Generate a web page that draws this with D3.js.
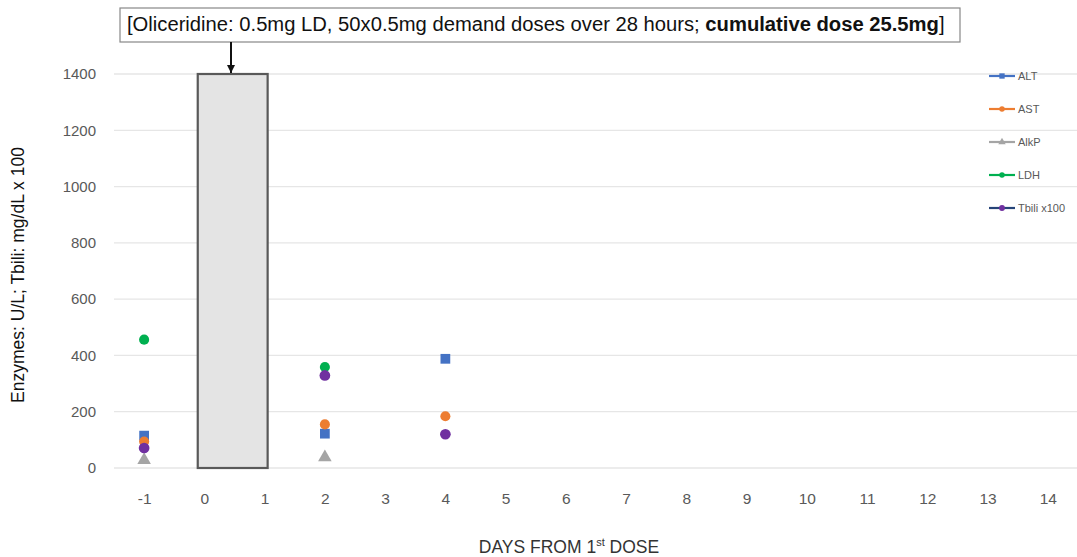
<!DOCTYPE html>
<html>
<head>
<meta charset="utf-8">
<script src="https://cdn.jsdelivr.net/npm/d3@7"></script>
<style>
  body { margin: 0; background: #fff; }
  svg { font-family: "Liberation Sans", "DejaVu Sans", sans-serif; }
</style>
</head>
<body>
<div id="chart"></div>
<script>
// data
var days = [-1, 2, 4];
var seriesNames = ["ALT", "AST", "AlkP", "LDH", "Tbili x100"];
var altValues = [115, 122, 388];
var astValues = [94, 155, 184];
var alkpValues = [28, 38, null];
var ldhValues = [456, 359, null];
var tbiliValues = [71, 329, 120];
var yTicks = [0, 200, 400, 600, 800, 1000, 1200, 1400];
var xTicks = [-1, 0, 1, 2, 3, 4, 5, 6, 7, 8, 9, 10, 11, 12, 13, 14];
var doseBar = [-0.11, 1.05, 1400];

var W = 1077, H = 557;
var svg = d3.select("#chart").append("svg")
    .attr("width", W)
    .attr("height", H);

var x = d3.scaleLinear().domain([-1.5, 14.5]).range([114, 1078]);
var y = d3.scaleLinear().domain([0, 1400]).range([468, 74]);

// 网格线
svg.append("g").selectAll("line")
    .data(yTicks)
    .enter().append("line")
    .attr("x1", 114).attr("x2", W)
    .attr("y1", function (d) { return y(d); })
    .attr("y2", function (d) { return y(d); })
    .attr("stroke", "#e6e6e6")
    .attr("stroke-width", 1.3);

// y轴
var yAxis = svg.append("g")
    .attr("transform", "translate(114,0)")
    .call(d3.axisLeft(y).tickValues(yTicks).tickSize(0).tickPadding(18).tickFormat(function (d) { return String(d); }));
yAxis.select(".domain").remove();
yAxis.selectAll("text")
    .attr("fill", "#595959")
    .attr("font-size", "15px");

// x轴
var xAxis = svg.append("g")
    .attr("transform", "translate(0,468)")
    .call(d3.axisBottom(x).tickValues(xTicks).tickSize(0).tickPadding(25).tickFormat(function (d) { return String(d); }));
xAxis.select(".domain").remove();
xAxis.selectAll("text")
    .attr("fill", "#595959")
    .attr("font-size", "15.5px");

// 给药柱
svg.append("rect")
    .attr("x", x(doseBar[0]))
    .attr("y", y(doseBar[2]))
    .attr("width", x(doseBar[1]) - x(doseBar[0]))
    .attr("height", y(0) - y(doseBar[2]))
    .attr("fill", "#e4e4e4")
    .attr("stroke", "#595959")
    .attr("stroke-width", 2.2);

// 数据点
var colors = ["#4472C4", "#ED7D31", "#A5A5A5", "#00B050", "#7030A0"];
var lineColors = ["#4472C4", "#ED7D31", "#A5A5A5", "#00B050", "#264478"];
var shapes = [d3.symbolSquare, d3.symbolCircle, d3.symbolTriangle, d3.symbolCircle, d3.symbolCircle];
var sizes = [95, 80, 80, 80, 90];
var allValues = [altValues, astValues, alkpValues, ldhValues, tbiliValues];

var drawOrder = [2, 3, 0, 1, 4];
drawOrder.forEach(function (s) {
    var pts = days.map(function (d, i) { return [d, allValues[s][i]]; })
        .filter(function (p) { return p[1] != null; });
    svg.append("g").selectAll("path")
        .data(pts)
        .enter().append("path")
        .attr("d", d3.symbol().type(shapes[s]).size(sizes[s]))
        .attr("transform", function (p) { return "translate(" + x(p[0]) + "," + y(p[1]) + ")"; })
        .attr("fill", colors[s]);
});

// 图例
var legend = svg.append("g").selectAll("g")
    .data(seriesNames)
    .enter().append("g")
    .attr("transform", function (d, i) { return "translate(989," + (76 + i * 33) + ")"; });
legend.append("line")
    .attr("x1", 0).attr("x2", 26)
    .attr("stroke", function (d, i) { return lineColors[i]; })
    .attr("stroke-width", 2.2);
legend.append("path")
    .attr("transform", "translate(13,0)")
    .attr("d", function (d, i) { return d3.symbol().type(shapes[i]).size(sizes[i] * 0.3)(); })
    .attr("fill", function (d, i) { return colors[i]; });
legend.append("text")
    .attr("x", 29).attr("dy", "0.35em")
    .attr("font-size", "11px")
    .attr("fill", "#595959")
    .text(function (d) { return d; });

// 注释框
svg.append("rect")
    .attr("x", 120).attr("y", 8)
    .attr("width", 840).attr("height", 34)
    .attr("fill", "#fff")
    .attr("stroke", "#888")
    .attr("stroke-width", 1.2);
var note = svg.append("text")
    .attr("x", 127).attr("y", 31)
    .attr("font-size", "17px")
    .attr("fill", "#111");
note.append("tspan").text("[Oliceridine: 0.5mg LD, 50x0.5mg demand doses over 28 hours; ");
note.append("tspan").attr("font-weight", "bold").text("cumulative dose 25.5mg");
note.append("tspan").text("]");
var nw = note.node().getComputedTextLength();
note.attr("font-size", (17 * 818 / nw) + "px");

// 箭头
svg.append("defs").append("marker")
    .attr("id", "arr")
    .attr("viewBox", "0 0 10 10")
    .attr("refX", 10).attr("refY", 5)
    .attr("markerWidth", 4).attr("markerHeight", 4)
    .attr("orient", "auto")
    .append("path").attr("d", "M0,0L10,5L0,10Z").attr("fill", "#111");
svg.append("line")
    .attr("x1", 231).attr("x2", 231)
    .attr("y1", 42).attr("y2", 73)
    .attr("stroke", "#111")
    .attr("stroke-width", 2)
    .attr("marker-end", "url(#arr)");

// 轴标题
svg.append("text")
    .attr("transform", "translate(24,275) rotate(-90)")
    .attr("text-anchor", "middle")
    .attr("font-size", "17.5px")
    .attr("fill", "#111")
    .text("Enzymes: U/L; Tbili: mg/dL x 100");

var xt = svg.append("text")
    .attr("x", 569).attr("y", 553)
    .attr("text-anchor", "middle")
    .attr("font-size", "17.5px")
    .attr("fill", "#333");
xt.append("tspan").text("DAYS FROM 1");
xt.append("tspan").attr("font-size", "11px").attr("dy", "-7").text("st");
xt.append("tspan").attr("dy", "7").text(" DOSE");
</script>
</body>
</html>
